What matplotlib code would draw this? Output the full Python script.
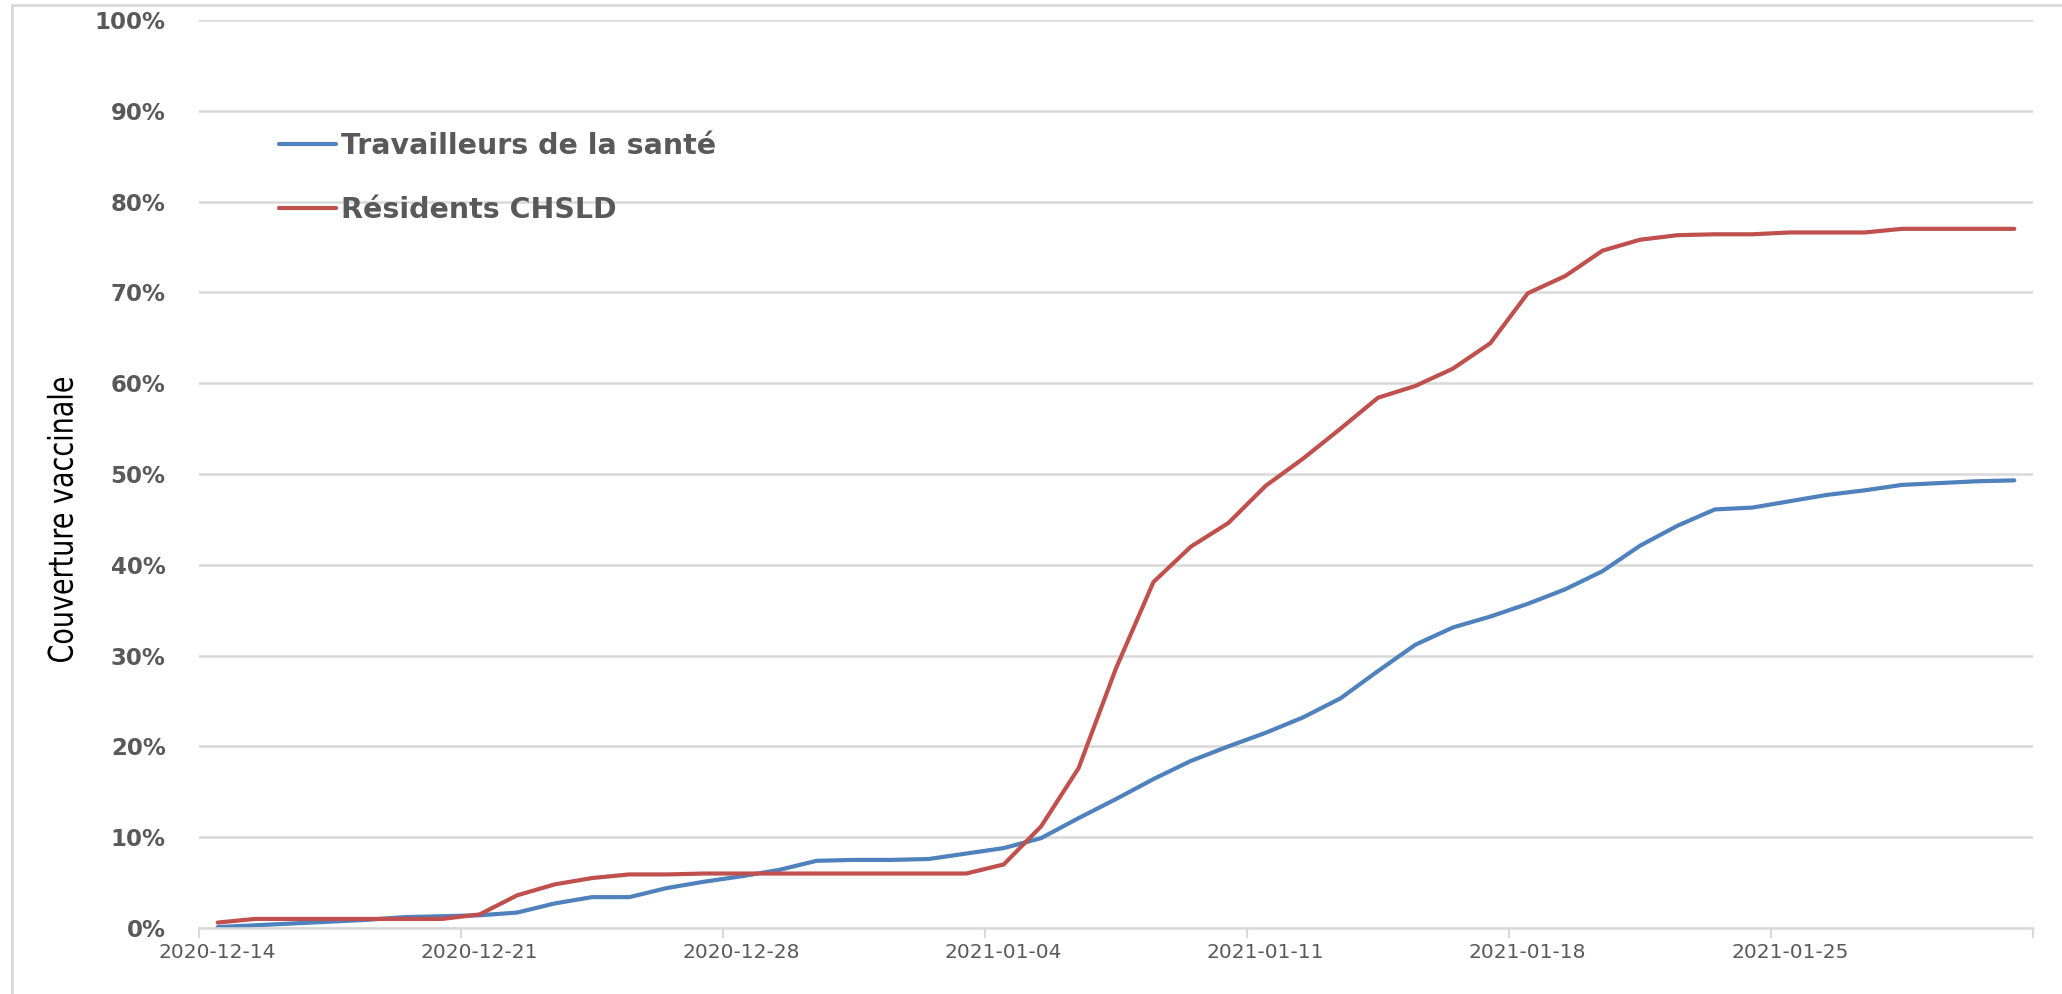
import numpy as np
import pandas as pd
import matplotlib
matplotlib.use("Agg")
import matplotlib.pyplot as plt
from matplotlib.lines import Line2D
from matplotlib.textpath import TextPath
from matplotlib.patches import PathPatch
from matplotlib.font_manager import FontProperties
from matplotlib.transforms import Affine2D, IdentityTransform

# Couverture vaccinale quotidienne (%), du 2020-12-14 au 2021-01-31
dates = pd.date_range("2020-12-14", "2021-01-31", freq="D")

travailleurs = [0.1, 0.3, 0.5, 0.7, 0.9, 1.2, 1.3, 1.4, 1.7, 2.7,
                3.4, 3.4, 4.4, 5.1, 5.7, 6.4, 7.4, 7.5, 7.5, 7.6,
                8.2, 8.8, 9.9, 12.1, 14.2, 16.4, 18.4, 20.0, 21.5, 23.2,
                25.3, 28.3, 31.2, 33.1, 34.3, 35.7, 37.3, 39.3, 42.1, 44.3,
                46.1, 46.3, 47.0, 47.7, 48.2, 48.8, 49.0, 49.2, 49.3]

residents = [0.6, 1.0, 1.0, 1.0, 1.0, 1.0, 1.0, 1.5, 3.6, 4.8,
             5.5, 5.9, 5.9, 6.0, 6.0, 6.0, 6.0, 6.0, 6.0, 6.0,
             6.0, 7.0, 11.2, 17.6, 28.6, 38.1, 42.0, 44.6, 48.7, 51.7,
             55.0, 58.4, 59.7, 61.6, 64.4, 69.9, 71.8, 74.6, 75.8, 76.3,
             76.4, 76.4, 76.6, 76.6, 76.6, 77.0, 77.0, 77.0, 77.0]

labels_series = ["Travailleurs de la santé", "Résidents CHSLD"]
couleurs = ["#4F81BD", "#C0504D"]
titre_y = "Couverture vaccinale"

gris_texte = "#595959"
gris_grille = "#D9D9D9"

W, H = 2062, 994
fig = plt.figure(figsize=(W / 100, H / 100), dpi=100)
ax = fig.add_axes([199 / W, 66 / H, 1834 / W, 908 / H])

x = np.arange(len(dates))
for serie, nom, c in zip([travailleurs, residents], labels_series, couleurs):
    ax.plot(x, np.array(serie) / 100, color=c, lw=3, label=nom,
            solid_capstyle="round", solid_joinstyle="round")

ax.set_xlim(-0.5, len(dates) - 0.5)
ax.set_ylim(0, 1.0)

# axe Y : pourcentages en gras, sans trait d'axe
ax.set_yticks(np.arange(0, 1.01, 0.1))
ax.set_yticklabels([f"{int(round(v * 100))}%" for v in np.arange(0, 1.01, 0.1)],
                   fontsize=16.5, fontweight="bold", color=gris_texte)
ax.tick_params(axis="y", length=0, pad=24)
ax.grid(axis="y", color=gris_grille, lw=1.8)
ax.set_axisbelow(True)

# axe X : graduations entre les catégories, étiquettes toutes les semaines
ax.set_xticks(np.arange(-0.5, len(dates), 7))
ax.set_xticklabels([])
ax.tick_params(axis="x", which="major", length=7, width=1.5, color=gris_grille)
ax.set_xticks(x[::7], minor=True)
ax.set_xticklabels([d.strftime("%Y-%m-%d") for d in dates[::7]], minor=True,
                   fontsize=14.5, color=gris_texte)
ax.tick_params(axis="x", which="minor", length=0, pad=11)

for s in ["top", "right", "left"]:
    ax.spines[s].set_visible(False)
ax.spines["bottom"].set_color(gris_grille)
ax.spines["bottom"].set_linewidth(1.8)

# titre de l'axe Y en police étroite : chemin de texte comprimé puis pivoté
tp = TextPath((0, 0), titre_y, size=34, prop=FontProperties(family="DejaVu Sans"))
ext = tp.get_extents()
longueur = 284
sx = longueur / ext.width
cx, cy = 60, H - 520
trans = (Affine2D().translate(-(ext.x0 + ext.width / 2), -(ext.y0 + ext.height / 2))
         .scale(sx, 1.0).rotate_deg(90).translate(cx, cy))
fig.add_artist(PathPatch(trans.transform_path(tp), transform=IdentityTransform(),
                         facecolor="black", edgecolor="none"))

leg = ax.legend(loc="upper left", bbox_to_anchor=(69 / 1834, 1 - 101 / 908),
                frameon=False, handlelength=2.0, handletextpad=0.15,
                labelspacing=1.25, borderaxespad=0,
                prop={"size": 20.5, "weight": "bold"})
for t in leg.get_texts():
    t.set_color(gris_texte)

# cadre de la zone de graphique
fig.add_artist(Line2D([12 / W, 1], [1 - 5 / H] * 2, color=gris_grille,
                      lw=2, transform=fig.transFigure))
fig.add_artist(Line2D([12 / W] * 2, [0, 1 - 5 / H], color=gris_grille,
                      lw=2, transform=fig.transFigure))

fig.savefig("out.png", dpi=100, facecolor="white")
